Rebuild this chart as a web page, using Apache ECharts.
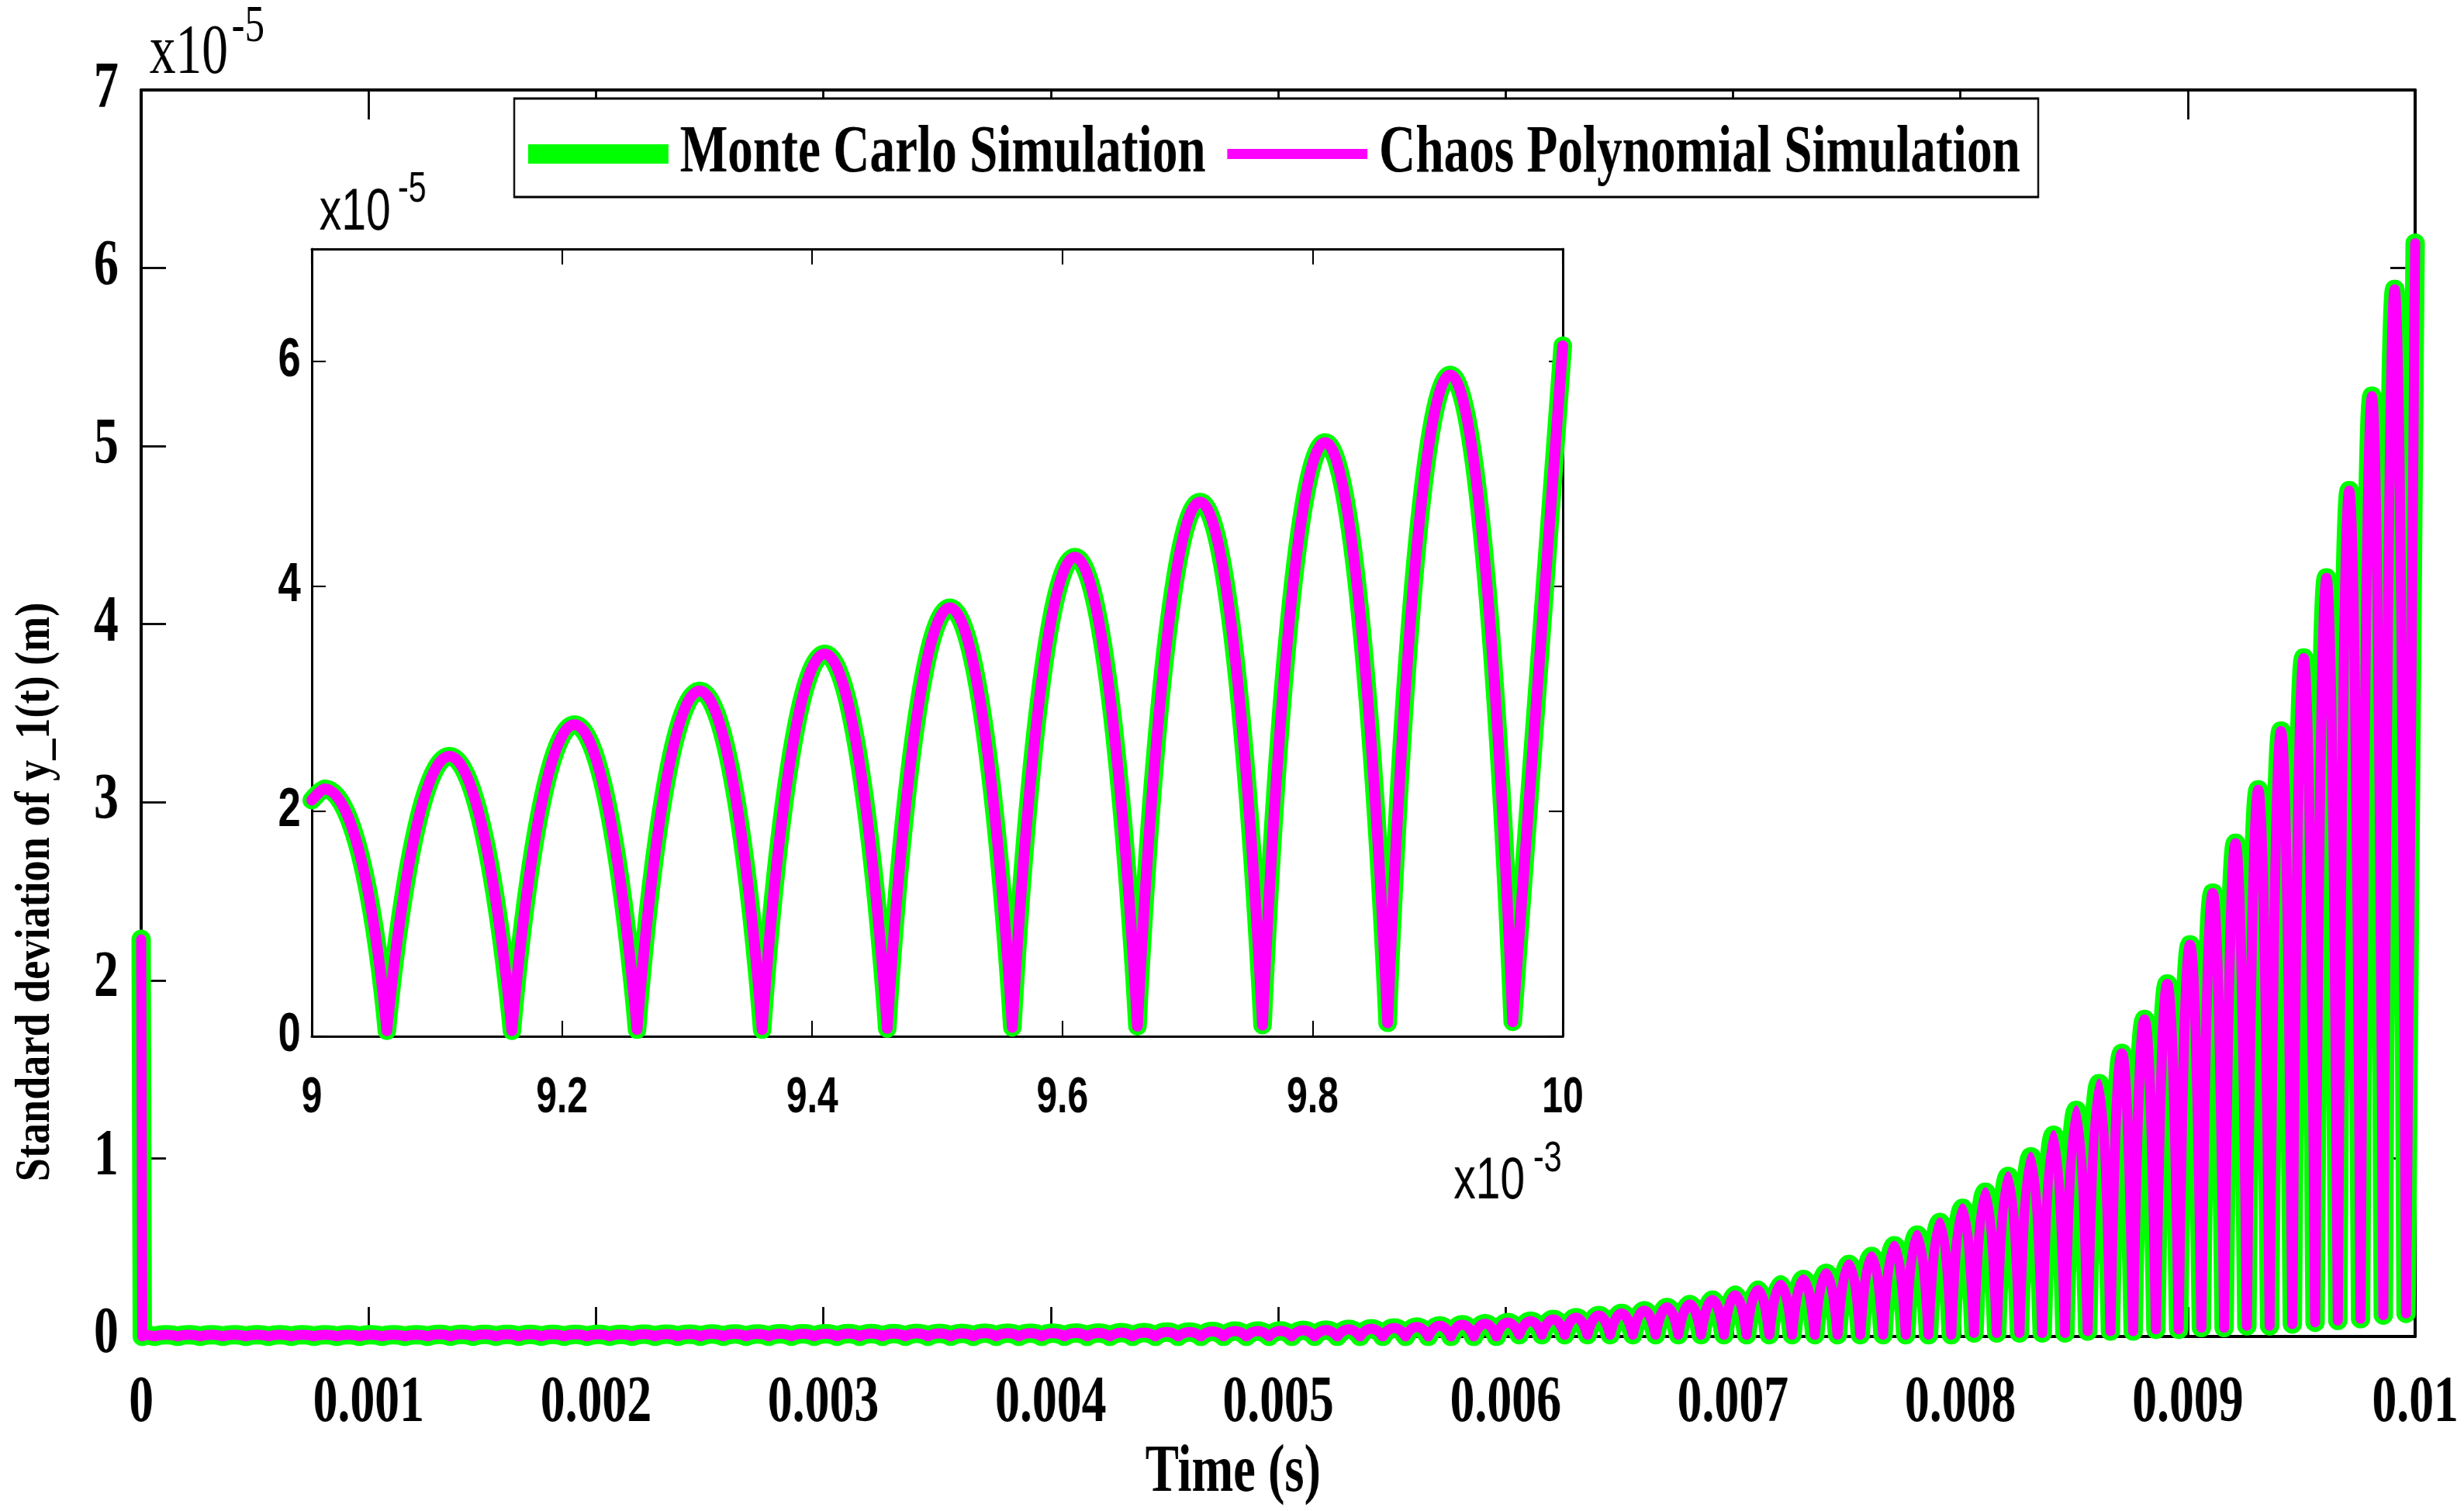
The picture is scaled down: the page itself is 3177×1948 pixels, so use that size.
<!DOCTYPE html>
<html lang="en">
<head>
    <meta charset="UTF-8">
    <title>Standard deviation of y_1(t)</title>
    <script src="https://cdn.jsdelivr.net/npm/echarts@6.0.0/dist/echarts.min.js"></script>
    <style>
        html, body { margin: 0; padding: 0; overflow: hidden; background: #fff; }
        #wrap { position: relative; width: 3177px; height: 1948px; overflow: hidden; }
        #plot { position: absolute; left: 0; top: 0; width: 3177px; height: 1948px; }
        /* the lettering of the figure is narrow: the text layer is laid out wider and squeezed */
        #text { position: absolute; left: 0; top: 0; width: 4236px; height: 1948px;
                transform: scaleX(0.75); transform-origin: 0 0; pointer-events: none; }
    </style>
</head>
<body>
<div id="wrap">
    <div id="plot"></div>
    <div id="text"></div>
</div>

<script type="text/javascript">
    // standard deviation of y_1(t), in units of 1e-5 m
    var spikeValue = 2.23;      // at t = 0
    var endValue = 6.14;        // at t = 0.01 s
    var insetStartValue = 2.1;  // at t = 0.009 s, where the zoomed view begins
    var lobePeriod = 1e-4;      // s, one lobe of the rectified oscillation
    var firstPeakTime = 1e-5;   // s, lobe k peaks at firstPeakTime + k * lobePeriod

    // height of each lobe
    var peakValues = [
        0.01, 0.01, 0.01, 0.01, 0.01, 0.01, 0.01, 0.01, 0.01, 0.01,
        0.01, 0.01, 0.01, 0.012, 0.012, 0.012, 0.012, 0.012, 0.012, 0.012,
        0.012, 0.012, 0.013, 0.013, 0.013, 0.014, 0.014, 0.014, 0.015, 0.015,
        0.015, 0.016, 0.016, 0.016, 0.017, 0.017, 0.017, 0.018, 0.018, 0.018,
        0.018, 0.02, 0.02, 0.022, 0.022, 0.025, 0.025, 0.028, 0.03, 0.03,
        0.032, 0.035, 0.036, 0.04, 0.044, 0.048, 0.053, 0.06, 0.066, 0.072,
        0.078, 0.086, 0.096, 0.106, 0.118, 0.13, 0.145, 0.163, 0.18, 0.205,
        0.232, 0.26, 0.29, 0.32, 0.355, 0.405, 0.45, 0.51, 0.57, 0.64,
        0.72, 0.81, 0.9, 1.01, 1.13, 1.27, 1.42, 1.59, 1.78, 1.98,
        2.2, 2.49, 2.77, 3.07, 3.4, 3.81, 4.26, 4.75, 5.28, 5.88
    ];
    // floor reached after each lobe
    var troughValues = [
        0, 0, 0, 0, 0, 0, 0, 0, 0, 0,
        0, 0, 0, 0, 0, 0, 0, 0, 0, 0,
        0, 0, 0, 0, 0, 0, 0, 0, 0, 0,
        0, 0, 0, 0, 0, 0, 0, 0, 0, 0,
        0, 0, 0, 0, 0, 0, 0, 0, 0, 0,
        0, 0, 0, 0, 0, 0, 0, 0, 0, 0,
        0.01, 0.01, 0.01, 0.01, 0.01, 0.01, 0.01, 0.01, 0.01, 0.01,
        0.01, 0.01, 0.01, 0.01, 0.01, 0.01, 0.01, 0.01, 0.01, 0.01,
        0.02, 0.02, 0.02, 0.02, 0.02, 0.03, 0.03, 0.03, 0.04, 0.04,
        0.05, 0.05, 0.06, 0.06, 0.07, 0.08, 0.09, 0.1, 0.12, 0.13
    ];

    var mainX = [0, 0.01, 0.001];       // min, max, step
    var mainY = [0, 7, 1];
    var insetX = [0.009, 0.01, 0.0002];
    var insetY = [0, 7, 2];

    var legendNames = ['Monte Carlo Simulation', 'Chaos Polynomial Simulation'];
    var colorMC = '#00ff00';
    var colorPC = '#ff00ff';

    // each lobe is its own smoothed piece, so the floors stay pointed
    function buildCurve() {
        var pts = [[0, spikeValue], [0.000005, 0]];
        var t0 = 0.000005, v0 = 0;
        for (var k = 0; k < peakValues.length; k++) {
            var tp = firstPeakTime + k * lobePeriod;
            var tt = tp + lobePeriod / 2;
            pts.push([t0, null]);
            pts.push([t0, v0], [tp, peakValues[k]], [tt, troughValues[k]]);
            t0 = tt;
            v0 = troughValues[k];
        }
        pts.push([t0, null], [t0, v0], [mainX[1], endValue]);
        return pts;
    }

    var mcCurve = buildCurve();
    var pcCurve = mcCurve;   // both simulations fall on the same line in the figure

    // the zoomed view starts at 0.009 s
    function insetPart(curve) {
        return [[insetX[0], insetStartValue]].concat(curve.filter(function (p) {
            return p[0] > insetX[0];
        }));
    }

    function frameAxis(position, gridIndex, range, tickLen, lineWidth) {
        return {
            type: 'value',
            gridIndex: gridIndex,
            position: position,
            min: range[0],
            max: range[1],
            interval: range[2],
            axisLine: { show: true, onZero: false, lineStyle: { color: '#000', width: lineWidth } },
            axisTick: { show: true, inside: true, length: tickLen, lineStyle: { color: '#000', width: lineWidth * 0.7 } },
            axisLabel: { show: false },
            splitLine: { show: false }
        };
    }

    function curveSeries(name, data, color, width, axisIndex, z) {
        return {
            name: name,
            type: 'line',
            xAxisIndex: axisIndex,
            yAxisIndex: axisIndex,
            data: data,
            symbol: 'none',
            showSymbol: false,
            smooth: 0.6,
            connectNulls: false,
            silent: true,
            z: z,
            lineStyle: { color: color, width: width, cap: 'round', join: 'round' }
        };
    }

    // layer 1: frames and curves
    var plotChart = echarts.init(document.getElementById('plot'));
    plotChart.setOption({
        backgroundColor: '#fff',
        animation: false,
        grid: [
            { left: 182, right: 63, top: 116, bottom: 225 },
            { left: 402, right: 1162, top: 321, bottom: 612, show: true, backgroundColor: '#fff', borderWidth: 0 }
        ],
        xAxis: [
            frameAxis('bottom', 0, mainX, 38, 4),
            frameAxis('top', 0, mainX, 38, 4),
            frameAxis('bottom', 1, insetX, 20, 3),
            frameAxis('top', 1, insetX, 20, 3)
        ],
        yAxis: [
            frameAxis('left', 0, mainY, 32, 4),
            frameAxis('right', 0, mainY, 32, 4),
            frameAxis('left', 1, insetY, 18, 3),
            frameAxis('right', 1, insetY, 18, 3)
        ],
        series: [
            curveSeries(legendNames[0], mcCurve, colorMC, 25, 0, 2),
            curveSeries(legendNames[1], pcCurve, colorPC, 13, 0, 3),
            curveSeries(legendNames[0], insetPart(mcCurve), colorMC, 24, 2, 4),
            curveSeries(legendNames[1], insetPart(pcCurve), colorPC, 14, 2, 5)
        ],
        graphic: [{
            type: 'text',
            x: 47,
            y: 1150,
            rotation: Math.PI / 2,
            scaleX: 0.86,
            silent: true,
            style: {
                text: 'Standard deviation of y_1(t) (m)',
                fontFamily: 'Liberation Serif',
                fontWeight: 'bold',
                fontSize: 63,
                fill: '#000',
                align: 'center',
                verticalAlign: 'middle'
            }
        }]
    });

    // layer 2: lettering and legend
    var serifFamily = 'Liberation Serif';

    function labelAxis(position, gridIndex, range, label) {
        return {
            type: 'value',
            gridIndex: gridIndex,
            position: position,
            min: range[0],
            max: range[1],
            interval: range[2],
            axisLine: { show: false, onZero: false },
            axisTick: { show: false },
            splitLine: { show: false },
            axisLabel: label
        };
    }

    function powerText(x, y, text, family, size) {
        return {
            type: 'text', x: x, y: y, silent: true,
            style: { text: text, fontFamily: family, fontSize: size, fill: '#000', align: 'left', verticalAlign: 'middle' }
        };
    }

    var textChart = echarts.init(document.getElementById('text'));
    var mainXAxis = labelAxis('bottom', 0, mainX, {
        margin: 46, fontFamily: serifFamily, fontWeight: 'bold', fontSize: 85, color: '#000',
        formatter: function (v) { return String(+v.toFixed(3)); }
    });
    mainXAxis.name = 'Time (s)';
    mainXAxis.nameLocation = 'middle';
    mainXAxis.nameGap = 126;
    mainXAxis.nameTextStyle = { fontFamily: serifFamily, fontWeight: 'bold', fontSize: 86, color: '#000', padding: [0, 155, 0, 0] };

    textChart.setOption({
        backgroundColor: 'transparent',
        animation: false,
        grid: [
            { left: 242.67, right: 84, top: 116, bottom: 225 },
            { left: 536, right: 1549.33, top: 321, bottom: 612 }
        ],
        xAxis: [
            mainXAxis,
            labelAxis('bottom', 1, insetX, {
                margin: 48, fontFamily: 'Liberation Sans', fontWeight: 'bold', fontSize: 64, color: '#000',
                formatter: function (v) { return String(+(v * 1000).toFixed(1)); }
            })
        ],
        yAxis: [
            labelAxis('left', 0, mainY, {
                margin: 39, fontFamily: serifFamily, fontWeight: 'bold', fontSize: 85, color: '#000',
                formatter: function (v) { return String(v); }
            }),
            labelAxis('left', 1, insetY, {
                margin: 19, fontFamily: 'Liberation Sans', fontWeight: 'bold', fontSize: 70, color: '#000',
                formatter: function (v) { return v === 7 ? '' : String(v); }
            })
        ],
        legend: {
            left: 884,
            top: 127,
            orient: 'horizontal',
            padding: [28, 31, 12, 24],
            itemGap: 37,
            itemWidth: 241,
            itemHeight: 25,
            selectedMode: false,
            backgroundColor: '#fff',
            borderColor: '#000',
            borderWidth: 3,
            textStyle: { fontFamily: serifFamily, fontWeight: 'bold', fontSize: 87, color: '#000', padding: [0, 0, 0, 15] },
            data: [
                { name: legendNames[0], icon: 'rect' },
                { name: legendNames[1], icon: 'path://M0,0H241V13H0Z' }
            ]
        },
        series: [
            { name: legendNames[0], type: 'line', data: [], color: colorMC, symbol: 'none' },
            { name: legendNames[1], type: 'line', data: [], color: colorPC, symbol: 'none' }
        ],
        graphic: [
            powerText(257, 70, 'x10', serifFamily, 90),
            powerText(398, 35, '-5', serifFamily, 68),
            powerText(549, 275, 'x10', 'Liberation Sans', 76),
            powerText(684, 245, '-5', 'Liberation Sans', 55),
            powerText(2499, 1524, 'x10', 'Liberation Sans', 76),
            powerText(2636, 1495, '-3', 'Liberation Sans', 55)
        ]
    });
</script>
</body>
</html>
